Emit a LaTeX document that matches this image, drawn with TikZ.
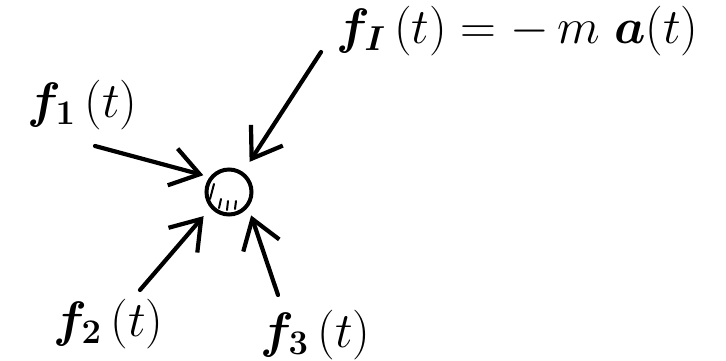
\documentclass[tikz,border=0pt]{standalone}
\usepackage{amsmath}
\usepackage{bm}
\usepackage{tikz}
\usetikzlibrary{arrows.meta,positioning}

\begin{document}
\begin{tikzpicture}[
  x=0.5pt, y=-0.5pt,
  force/.style={line width=2.1pt, line cap=round, -{Straight Barb[length=14pt, width=19pt, line width=2.1pt]}},
  lbl/.style={inner sep=0pt, anchor=base west, font=\fontsize{23.5}{28}\selectfont},
  body/.style={circle, draw, line width=2pt, minimum size=22.5pt, inner sep=0pt}
]
\useasboundingbox (0,0) rectangle (726,360);

\node[body] (mass) at (229,192) {};
\draw[line width=1pt, line cap=round] (214,184) -- (210,199);
\draw[line width=1pt, line cap=round] (221,199) -- (219,208);
\draw[line width=1pt, line cap=round] (228,201) -- (227,210);
\draw[line width=1pt, line cap=round] (236,201) -- (235,209);

\node[lbl] (fI) at (336,43) {\fontsize{24}{28}\selectfont$\bm{f}_{\bm{I}}\,(t) = -\,m\;\bm{a}(t)$};
\node[lbl] (f1) at (27,117) {$\bm{f}_{\mathbf{1}}\,(t)$};
\node[lbl] (f2) at (53,336) {$\bm{f}_{\mathbf{2}}\,(t)$};
\node[lbl] (f3) at (260,347) {$\bm{f}_{\mathbf{3}}\,(t)$};

\coordinate (tI) at (321,52);
\coordinate (t1) at (95,146);
\coordinate (t2) at (140,290);
\coordinate (t3) at (278,295);

\draw[force, shorten >=6pt] (tI) -- (mass.55);
\draw[force, shorten >=3.3pt] (t1) -- (mass.142);
\draw[force, shorten >=5.3pt] (t2) -- (mass.221);
\draw[force, shorten >=4.4pt] (t3) -- (mass.-38);

\end{tikzpicture}
\end{document}
